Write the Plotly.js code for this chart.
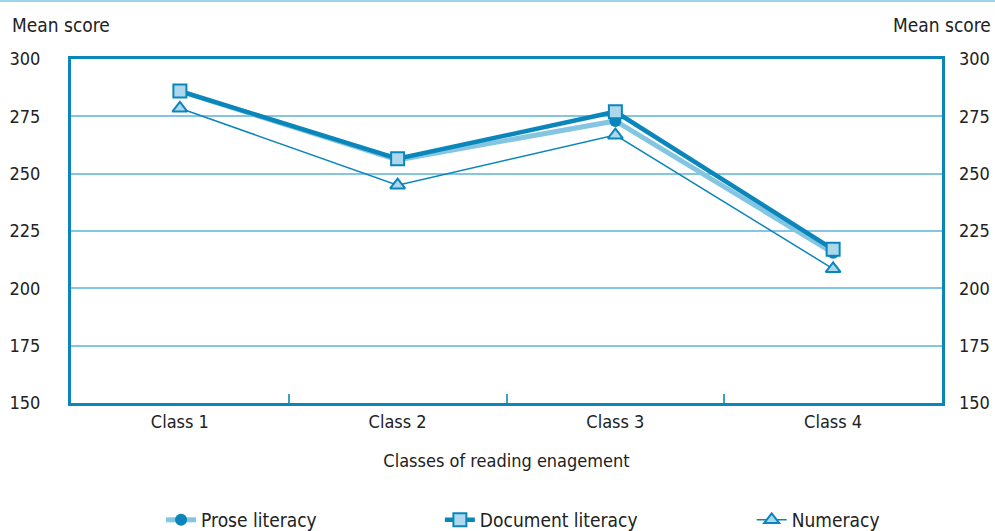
<!DOCTYPE html>
<html><head><meta charset="utf-8">
<script src="https://cdn.plot.ly/plotly-3.0.1.min.js"></script>
<style>html,body{margin:0;padding:0;background:#fff}#c{width:995px;height:531px}</style>
</head><body><div id="c"></div>
<script>
const categories = ["Class 1", "Class 2", "Class 3", "Class 4"];
const prose = [286, 256, 273, 215.5];
const documentLit = [286, 256.5, 277, 217];
const numeracy = [278.5, 245, 266.8, 208.5];
const yTicks = [150, 175, 200, 225, 250, 275, 300];

const dark = "#0a86bb", light = "#84c6e2", fillLight = "#acd7ec";
const FONT = "'DejaVu Sans Condensed', 'Liberation Sans Narrow', 'Arial Narrow', sans-serif";

const traces = [
  {x: categories, y: prose, name: "Prose literacy", type: "scatter", mode: "lines+markers", legend: "legend",
   line: {color: light, width: 5}, marker: {symbol: "circle", size: 12, color: dark, line: {width: 0}}},
  {x: categories, y: documentLit, name: "Document literacy", type: "scatter", mode: "lines+markers", legend: "legend2",
   line: {color: dark, width: 4.5}, marker: {symbol: "square", size: 13, color: fillLight, line: {color: dark, width: 2}}},
  {x: categories, y: numeracy, name: "Numeracy", type: "scatter", mode: "lines+markers", legend: "legend3",
   line: {color: dark, width: 1.5}, marker: {symbol: "triangle-up", size: 13, color: fillLight, line: {color: dark, width: 2}}},
  {x: categories, y: numeracy, yaxis: "y2", type: "scatter", mode: "none", showlegend: false, hoverinfo: "skip"}
];

const legFont = {size: 19, family: FONT, color: "#222"};
const layout = {
  width: 995, height: 531,
  margin: {l: 71, r: 53, t: 59, b: 128, autoexpand: false},
  paper_bgcolor: "#fff", plot_bgcolor: "#fff",
  font: {family: FONT, size: 18, color: "#222"},
  showlegend: true,
  legend:  {orientation: "h", x: 0.1034, xanchor: "left", y: -0.34, yanchor: "middle", font: legFont},
  legend2: {orientation: "h", x: 0.4235, xanchor: "left", y: -0.34, yanchor: "middle", font: legFont},
  legend3: {orientation: "h", x: 0.7815, xanchor: "left", y: -0.34, yanchor: "middle", font: legFont},
  xaxis: {type: "category", range: [-0.5, 3.5], tickson: "boundaries", ticks: "inside", ticklen: 9,
          tickcolor: "#3aa0cc", tickwidth: 2, showgrid: false, zeroline: false,
          showline: true, linecolor: dark, linewidth: 3, mirror: true,
          tickfont: {size: 18, family: FONT, color: "#222"},
          title: {text: "Classes of reading enagement", font: {size: 18, family: FONT, color: "#222"}, standoff: 24}},
  yaxis: {range: [150, 300], tickvals: yTicks, ticks: "", showgrid: true, gridcolor: light, gridwidth: 2,
          zeroline: false, showline: true, linecolor: dark, linewidth: 3, mirror: true,
          ticklabelstandoff: 24, tickfont: {size: 18, family: FONT, color: "#222"}},
  yaxis2: {range: [150, 300], tickvals: yTicks, overlaying: "y", side: "right", ticks: "",
           showgrid: false, zeroline: false, showline: false, ticklabelstandoff: 16,
           tickfont: {size: 18, family: FONT, color: "#222"}},
  shapes: [
    {type: "line", xref: "paper", yref: "paper", x0: -0.0815, x1: 1.061, y0: 1.1686, y1: 1.1686,
     line: {color: "#9dd3ea", width: 2}}
  ],
  annotations: [
    {text: "Mean score", xref: "paper", yref: "paper", x: -0.0695, y: 1.098, xanchor: "left", yanchor: "middle",
     showarrow: false, font: {size: 19, family: FONT, color: "#222"}},
    {text: "Mean score", xref: "paper", yref: "paper", x: 1.059, y: 1.098, xanchor: "right", yanchor: "middle",
     showarrow: false, font: {size: 19, family: FONT, color: "#222"}}
  ]
};

Plotly.newPlot("c", traces, layout, {displayModeBar: false, staticPlot: true});
</script></body></html>
